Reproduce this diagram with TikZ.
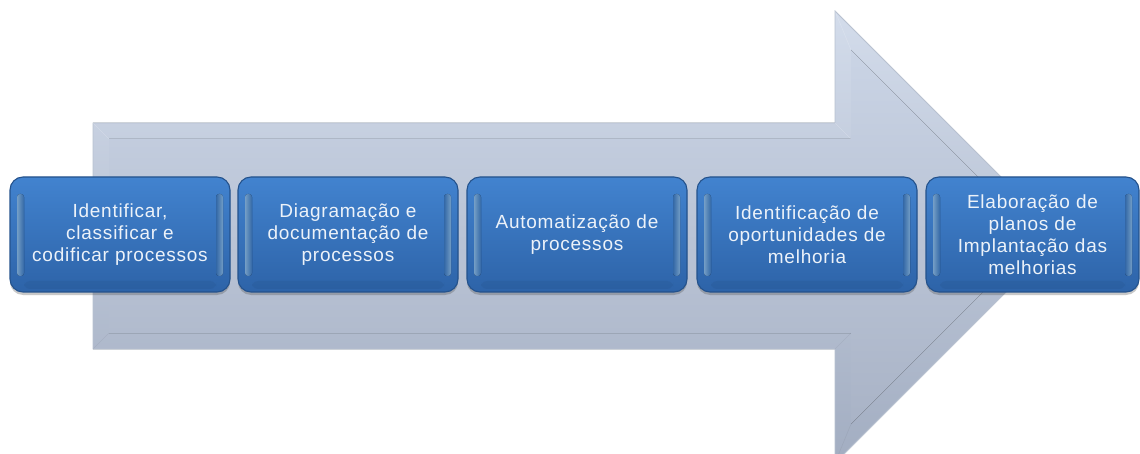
\documentclass[tikz,border=0pt]{standalone}
\usepackage{fontspec}
\setmainfont{Liberation Sans}[LetterSpace=4]
\usetikzlibrary{shadows}

\definecolor{arrowtop}{HTML}{D3DCEB}
\definecolor{arrowbot}{HTML}{A2ADC1}
\definecolor{arrowinnertop}{HTML}{CAD4E5}
\definecolor{arrowinnerbot}{HTML}{A9B3C6}
\definecolor{arrowedge}{HTML}{B8C1D0}
\definecolor{boxtop}{HTML}{4283CF}
\definecolor{boxbot}{HTML}{2D63A8}
\definecolor{boxedge}{HTML}{24528C}
\definecolor{glint}{HTML}{8EC0EE}
\definecolor{boxtext}{HTML}{ECF2F9}

\tikzset{
  stepbox/.style={
    rounded corners=13pt, draw=boxedge, line width=1.1pt,
    top color=boxtop, bottom color=boxbot,
    drop shadow={shadow xshift=0pt, shadow yshift=-3pt, opacity=0.3, fill=black!70}
  },
  steplabel/.style={
    text=boxtext, align=center, font=\fontsize{19}{22}\selectfont, inner sep=0pt
  }
}

% draw one glossy process box: #1 name, #2 left x, #3 right x, #4 text
\newcommand{\procbox}[4]{%
  \path[stepbox] (#2,177) rectangle (#3,292);
  \fill[left color=glint, right color=boxtop!80!boxbot, opacity=0.8, rounded corners=3pt]
    ({#2+7},194) rectangle ({#2+14},276);
  \fill[right color=glint, left color=boxtop!80!boxbot, opacity=0.8, rounded corners=3pt]
    ({#3-14},194) rectangle ({#3-7},276);
  \fill[boxbot!70!black, opacity=0.15, rounded corners=6pt]
    ({#2+14},281) rectangle ({#3-14},289);
  \node[steplabel] (#1) at ({(#2+#3)/2},235) {#4};
}

\begin{document}
\begin{tikzpicture}[x=1pt, y=-1pt]
  \useasboundingbox (0,0) rectangle (1140,454);
  \fill[white] (0,0) rectangle (1140,454);

  % big background arrow
  \fill[top color=arrowtop, bottom color=arrowbot, draw=arrowedge, line width=0.8pt]
    (93,123) -- (835,123) -- (835,11) -- (1061,237) -- (835,463)
    -- (835,349) -- (93,349) -- cycle;
  % inner bevel face
  \fill[top color=arrowinnertop, bottom color=arrowinnerbot]
    (109,139) -- (851,139) -- (851,50) -- (1038,237) -- (851,424)
    -- (851,333) -- (109,333) -- cycle;
  % bevel corner seams
  \draw[white, opacity=0.2, line width=0.5pt]
    (93,123) -- (109,139)  (835,123) -- (851,139) (835,11) -- (851,50)
    (1061,237) -- (1038,237);
  \draw[black, opacity=0.05, line width=0.5pt]
    (93,349) -- (109,333) (835,349) -- (851,333) (835,463) -- (851,424);

  % process steps
  \procbox{s1}{10}{230}{Identificar,\\classificar e\\codificar processos}
  \procbox{s2}{238}{458}{Diagramação e\\documentação de\\processos}
  \procbox{s3}{467}{687}{Automatização de\\processos}
  \procbox{s4}{697}{917}{Identificação de\\oportunidades de\\melhoria}
  \procbox{s5}{926}{1139}{Elaboração de\\planos de\\Implantação das\\melhorias}
\end{tikzpicture}
\end{document}
